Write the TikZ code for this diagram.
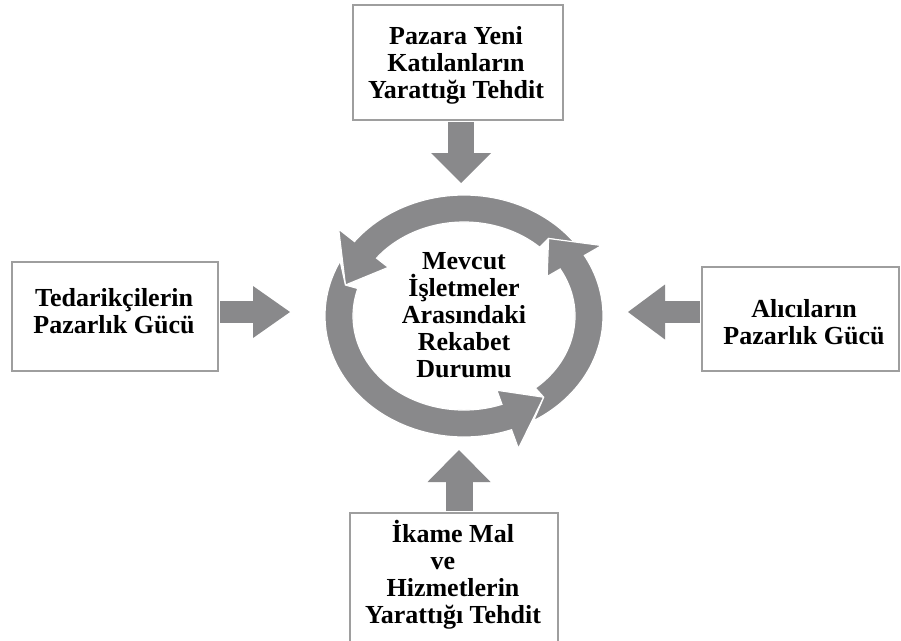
\documentclass[tikz,border=0pt]{standalone}
\usepackage{fontspec}
\setmainfont{Liberation Serif}
\usetikzlibrary{arrows.meta,calc}
\definecolor{shapegray}{RGB}{137,137,139}
\definecolor{framegray}{RGB}{158,158,158}

% one segment of the circular arrow: start angle (the previous tip),
% head base angle, tip angle
\newcommand{\ringsegment}[3]{%
  \fill[shapegray, draw=white, line width=1.2pt]
    ($(ringc)+({-#1+10}:139 and 121)$)
    arc[start angle={-#1+10}, end angle=-#2, x radius=139, y radius=121]
    -- ($(ringc)+(-#2:159 and 141)$)
    -- ($(ringc)+(-#3:124 and 106)$)
    -- ($(ringc)+(-#2:96 and 79)$)
    -- ($(ringc)+(-#2:111 and 94)$)
    arc[start angle=-#2, end angle=-#1, x radius=111, y radius=94]
    -- ($(ringc)+(-#1:124 and 106)$)
    -- cycle;}

\begin{document}
\begin{tikzpicture}[x=1pt,y=-1pt,
  forcebox/.style={draw=framegray, line width=2.5pt, fill=white, inner sep=0pt},
  label/.style={font=\fontsize{26}{27}\selectfont\bfseries, align=center,
    anchor=base, inner sep=0pt},
  blockarrow/.style n args={3}{draw=shapegray, line width=#1pt, shorten <=1pt,
    -{Triangle[length=#3pt, width=#2pt, line width=0pt, fill=shapegray]}}]

\useasboundingbox[fill=white] (0,0) rectangle (901,640);

% circular arrow in the middle
\coordinate (ringc) at (464,316);
\ringsegment{47}{142}{163}
\ringsegment{163}{290}{310}
\ringsegment{310}{390}{407}

% multi-line labels are placed by the baseline of their last line
\node[label] (centertext) at (464,377)
  {Mevcut\\İşletmeler\\Arasındaki\\Rekabet\\Durumu};

% the four forces
\node[forcebox, minimum width=210pt, minimum height=115pt] (topbox) at (458,62.5) {};
\node[label] (toptext) at (456,98) {Pazara Yeni\\Katılanların\\Yarattığı Tehdit};

\node[forcebox, minimum width=206pt, minimum height=109pt] (leftbox) at (115,316.5) {};
\node[label] (lefttext) at (114,333) {Tedarikçilerin\\Pazarlık Gücü};

\node[forcebox, minimum width=197pt, minimum height=104pt] (rightbox) at (800.5,319) {};
\node[label] (righttext) at (804,344) {Alıcıların\\Pazarlık Gücü};

\node[forcebox, minimum width=208pt, minimum height=140pt] (bottombox) at (454,583) {};
\node[label] (bottomtext) at (453,623)
  {İkame Mal\\\mbox{ve\hspace{20pt}}\\Hizmetlerin\\Yarattığı Tehdit};

% arrow tips at the ring
\coordinate (tipTop) at (461,183);
\coordinate (tipLeft) at (290,312);
\coordinate (tipRight) at (628,312);
\coordinate (tipBottom) at (459,450);

\draw[blockarrow={26}{60}{30}] (topbox.south -| tipTop) -- (tipTop);
\draw[blockarrow={22}{52}{37}] (leftbox.east |- tipLeft) -- (tipLeft);
\draw[blockarrow={22}{55}{37}] (rightbox.west |- tipRight) -- (tipRight);
\draw[blockarrow={27}{63}{32}] (bottombox.north -| tipBottom) -- (tipBottom);
\end{tikzpicture}
\end{document}
